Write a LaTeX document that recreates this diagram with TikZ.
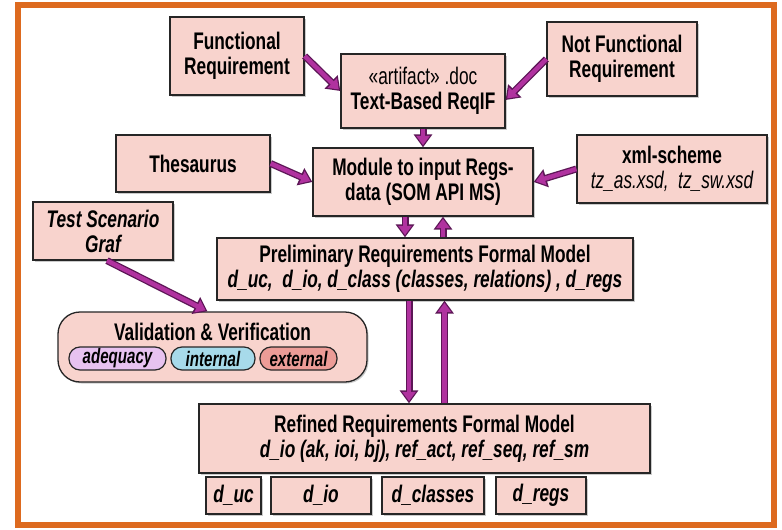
\documentclass[tikz,border=0pt]{standalone}
\usepackage{fontspec}
\setmainfont{Liberation Sans}[FakeStretch=0.72]
\usetikzlibrary{arrows.meta,shadows}
\definecolor{framec}{HTML}{DD6A1F}
\definecolor{boxfill}{HTML}{F8D3CD}
\definecolor{arrdark}{HTML}{5C1656}
\definecolor{arrmid}{HTML}{B0329F}
\definecolor{adeq}{HTML}{E7C2F0}
\definecolor{inter}{HTML}{A7DAEA}
\definecolor{exter}{HTML}{EC9C97}
\newcommand\hdr{\bfseries\fontsize{24}{25}\selectfont}
\newcommand\blockarrow[2]{\draw[arrout] #1 -- #2; \draw[arrin] #1 -- #2;}
\begin{document}
\begin{tikzpicture}[x=1pt,y=-1pt,
  box/.style={draw=black!85, line width=1.3pt, fill=boxfill, inner sep=0pt, align=center, font=\hdr,
    drop shadow={shadow xshift=1.5pt, shadow yshift=-1.5pt, fill=black!40, opacity=0.5}},
  pill/.style={draw=black!85, line width=1.2pt, inner sep=0pt, rounded corners=11pt, minimum height=23pt,
    font=\bfseries\itshape\fontsize{21}{22}\selectfont},
  small/.style={box, minimum height=37pt, font=\bfseries\itshape\fontsize{24}{25}\selectfont},
  arrout/.style={line width=7pt, draw=arrdark, -{Triangle[length=13pt,width=18pt]}},
  arrin/.style={line width=4.4pt, draw=arrmid, shorten >=2.2pt, -{Triangle[length=9.2pt,width=13pt]}}]
\useasboundingbox (0,0) rectangle (782,530);
\fill[white] (0,0) rectangle (782,530);
\draw[framec, line width=6pt] (18,5) rectangle (774,525);

\node[box, minimum width=134pt, minimum height=78pt] (func) at (237,56) {Functional\\Requirement};
\node[box, minimum width=164pt, minimum height=74pt] (art) at (423,91) {{\mdseries «artifact» .doc}\\Text-Based ReqIF};
\node[box, minimum width=150pt, minimum height=74pt] (nfunc) at (622,59) {Not Functional\\Requirement};
\node[box, minimum width=154pt, minimum height=57pt] (thes) at (193,163.5) {Thesaurus};
\node[box, minimum width=220pt, minimum height=68pt] (mod) at (423,182) {Module to input Regs-\\data (SOM API MS)};
\node[box, minimum width=190pt, minimum height=68pt] (xml) at (672,169) {xml-scheme\\{\mdseries\itshape tz\_as.xsd,\ \ tz\_sw.xsd}};
\node[box, minimum width=140pt, minimum height=58pt, font=\bfseries\itshape\fontsize{24}{25}\selectfont] (test) at (103,231) {Test Scenario\\Graf};
\node[box, minimum width=416pt, minimum height=62pt] (prel) at (425,269) {Preliminary Requirements Formal Model\\{\itshape d\_uc,\ \ d\_io, d\_class (classes, relations) , d\_regs}};
\node[box, minimum width=309pt, minimum height=70pt, rounded corners=22pt] (vv) at (212.5,347) {};
\node[font=\hdr, inner sep=0pt] (vvt) at (212.5,332) {Validation \& Verification};
\node[pill, fill=adeq, minimum width=97pt] (adq) at (117.5,358.5) {adequacy};
\node[pill, fill=inter, minimum width=84pt] (int) at (213,358.5) {internal};
\node[pill, fill=exter, minimum width=77pt] (ext) at (298.5,358.5) {external};
\node[box, minimum width=451pt, minimum height=69pt] (ref) at (424.5,438.5) {Refined Requirements Formal Model\\{\itshape d\_io (ak, ioi, bj), ref\_act, ref\_seq, ref\_sm}};
\node[small, minimum width=55pt] (duc) at (233.5,495.5) {d\_uc};
\node[small, minimum width=100pt] (dio) at (321,495.5) {d\_io};
\node[small, minimum width=102pt] (dcl) at (433,495.5) {d\_classes};
\node[small, minimum width=90pt] (dreg) at (541,495.5) {d\_regs};

\blockarrow{(func.east)}{(art.west)}
\blockarrow{(nfunc.west)}{([yshift=-9pt]art.east)}
\blockarrow{(art.south)}{(mod.north)}
\blockarrow{(thes.east)}{(mod.west)}
\blockarrow{(xml.west)}{(mod.east)}
\blockarrow{([xshift=-18pt]mod.south)}{([xshift=-18pt]mod.south |- prel.north)}
\blockarrow{([xshift=18pt]prel.north)}{([xshift=20pt]mod.south)}
\blockarrow{([xshift=-16pt]prel.south)}{([xshift=-16pt]prel.south |- ref.north)}
\blockarrow{([xshift=20pt]ref.north)}{([xshift=20pt]ref.north |- prel.south)}
\blockarrow{([xshift=4pt]test.south)}{([xshift=-5pt]vv.north)}
\end{tikzpicture}
\end{document}
